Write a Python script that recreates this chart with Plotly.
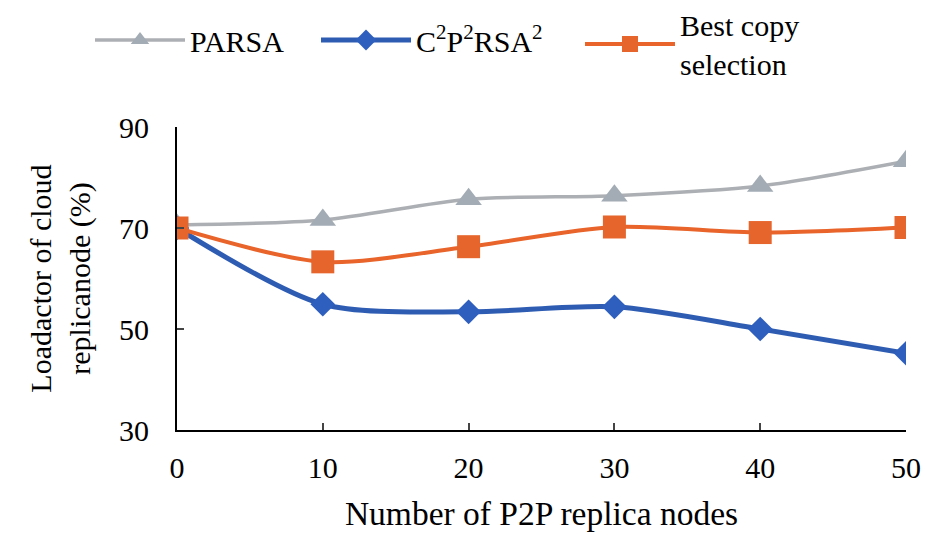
import plotly.graph_objects as go

x_nodes = [0, 10, 20, 30, 40, 50]
parsa = [70.6, 71.6, 75.7, 76.4, 78.3, 83.2]
c2p2rsa2 = [70.0, 54.9, 53.4, 54.4, 50.0, 45.2]
best_copy = [70.0, 63.3, 66.3, 70.2, 69.1, 70.1]

x_ticks = [0, 10, 20, 30, 40, 50]
y_ticks = [30, 50, 70, 90]

FONT = "Liberation Serif"
W, H = 937, 526  # page body adds an 8px offset in the browser window

fig = go.Figure()
fig.add_trace(go.Scatter(
    x=x_nodes, y=parsa, name="PARSA", mode="lines+markers", legend="legend",
    line=dict(color="#ACAFB3", width=3.5, shape="spline", smoothing=0.8),
    marker=dict(symbol="triangle-up", size=23, color="#A3ABB4"),
))
fig.add_trace(go.Scatter(
    x=x_nodes, y=c2p2rsa2, name="C<sup>2</sup>P<sup>2</sup>RSA<sup>2</sup>",
    mode="lines+markers", legend="legend2",
    line=dict(color="#2E5CB3", width=5, shape="spline", smoothing=0.8),
    marker=dict(symbol="diamond", size=19, color="#2F5FBE"),
))
fig.add_trace(go.Scatter(
    x=x_nodes, y=best_copy, name="Best copy<br>selection", mode="lines+markers",
    legend="legend3",
    line=dict(color="#E8642A", width=4, shape="spline", smoothing=0.8),
    marker=dict(symbol="square", size=23, color="#E6652C"),
))

leg_common = dict(orientation="h", xanchor="left", yanchor="middle",
                  xref="container", yref="container", itemwidth=90,
                  font=dict(family=FONT, size=30, color="black"),
                  bgcolor="rgba(0,0,0,0)")
ly = 1 - 32 / H

fig.update_layout(
    width=W, height=H,
    paper_bgcolor="white", plot_bgcolor="white",
    font=dict(family=FONT, size=30, color="black"),
    margin=dict(l=169, r=39, t=119, b=104, autoexpand=False),
    showlegend=True,
    legend=dict(x=82 / W, y=ly, **leg_common),
    legend2=dict(x=308 / W, y=ly, **leg_common),
    legend3=dict(x=572 / W, y=1 - 36 / H, **leg_common),
    xaxis=dict(range=[0, 50], tickvals=x_ticks, ticks="inside", ticklen=7,
               tickwidth=1.5, showline=True, linecolor="black", linewidth=2,
               showgrid=False, zeroline=False, ticklabelstandoff=10,
               automargin=False,
               title=dict(text="Number of P2P replica nodes", standoff=19,
                          font=dict(family=FONT, size=33.5, color="black")),
               tickfont=dict(family=FONT, size=30, color="black")),
    yaxis=dict(range=[30, 90], tickvals=y_ticks, ticks="inside", ticklen=7,
               tickwidth=1.5, showline=True, linecolor="black", linewidth=2,
               showgrid=False, zeroline=False, ticklabelstandoff=20,
               automargin=False,
               title=dict(text="Loadactor of cloud<br>replicanode (%)", standoff=20,
                          font=dict(family=FONT, size=30, color="black")),
               tickfont=dict(family=FONT, size=30, color="black")),
)

fig.write_html("out.html")
